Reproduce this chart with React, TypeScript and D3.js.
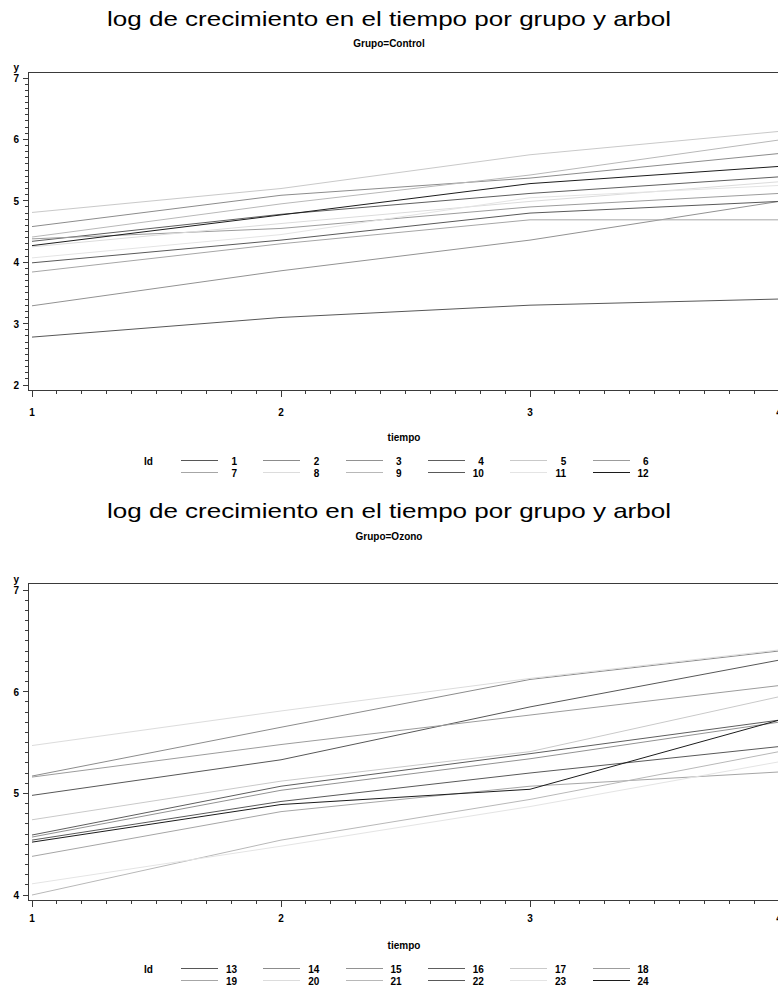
import React from "react";
import * as d3 from "d3";

// Time points and group data: log growth per tree (Id) over four measurements
const tiempo = [1, 2, 3, 4];

const controlIds = [1, 2, 3, 4, 5, 6, 7, 8, 9, 10, 11, 12];
const controlLogCrecimiento = [
  [2.78, 3.10, 3.30, 3.40],
  [4.58, 5.09, 5.37, 5.77],
  [3.29, 3.86, 4.36, 4.99],
  [4.34, 4.78, 5.12, 5.39],
  [4.81, 5.20, 5.75, 6.13],
  [4.38, 4.55, 4.90, 5.12],
  [3.84, 4.30, 4.69, 4.69],
  [4.25, 4.63, 4.99, 5.31],
  [4.41, 4.95, 5.42, 5.99],
  [3.99, 4.36, 4.80, 4.99],
  [4.07, 4.45, 5.05, 5.25],
  [4.27, 4.77, 5.28, 5.56],
];

const ozonoIds = [13, 14, 15, 16, 17, 18, 19, 20, 21, 22, 23, 24];
const ozonoLogCrecimiento = [
  [4.98, 5.33, 5.85, 6.31],
  [5.17, 5.65, 6.12, 6.40],
  [4.57, 5.03, 5.34, 5.70],
  [4.59, 5.07, 5.39, 5.72],
  [4.74, 5.12, 5.41, 5.95],
  [5.16, 5.48, 5.77, 6.06],
  [4.38, 4.82, 5.07, 5.21],
  [5.47, 5.81, 6.13, 6.41],
  [4.00, 4.54, 4.94, 5.41],
  [4.54, 4.92, 5.20, 5.46],
  [4.11, 4.48, 4.87, 5.31],
  [4.52, 4.89, 5.04, 5.72],
];

// Gray level for each Id position inside a group (same cycle for both groups)
const grises = [
  "#575757", "#8c8c8c", "#929292", "#5e5e5e", "#c9c9c9", "#9c9c9c",
  "#a6a6a6", "#dcdcdc", "#b8b8b8", "#595959", "#e4e4e4", "#1c1c1c",
];

const titulo = "log de crecimiento en el tiempo por grupo y arbol";
const ejeX = "tiempo";
const ejeY = "y";
const leyendaTitulo = "Id";

const W = 778;
const H = 991;
const FRAME_LEFT = 28;
const FRAME_RIGHT = 784;
const SMALL_FONT = "'Liberation Sans', Arial, sans-serif";

type PanelProps = {
  grupo: string;
  ids: number[];
  valores: number[][];
  yDomain: [number, number];
  yRange: [number, number];
  frameTop: number;
  frameBottom: number;
  titleY: number;
  subtitleY: number;
  tickLabelY: number;
  tiempoY: number;
  legendY: number;
};

function Panel(p: PanelProps) {
  const x = d3.scaleLinear().domain([1, 4]).range([32, 779]);
  const y = d3.scaleLinear().domain(p.yDomain).range(p.yRange);

  const line = d3
    .line<number>()
    .x((_, i) => x(tiempo[i]))
    .y((v) => y(v));

  const xMinor = d3.range(10, 41).map((v) => v / 10);
  const yMinor = d3
    .range(Math.round(p.yDomain[0] * 10), Math.round(p.yDomain[1] * 10) + 1)
    .map((v) => v / 10);
  const yMajor = d3.range(p.yDomain[0], p.yDomain[1] + 1);

  const axisColor = "#3a3a3a";

  return (
    <g>
      <text
        x={W / 2}
        y={p.titleY}
        textAnchor="middle"
        fontFamily="'Liberation Sans', Arial, sans-serif"
        fontSize={21}
        textLength={564}
        lengthAdjust="spacingAndGlyphs"
        fill="#000"
      >
        {titulo}
      </text>
      <text
        x={W / 2}
        y={p.subtitleY}
        textAnchor="middle"
        fontFamily={SMALL_FONT}
        fontSize={10}
        fontWeight="bold"
        fill="#000"
      >
        {`Grupo=${p.grupo}`}
      </text>

      {/* series */}
      <g fill="none" strokeWidth={1}>
        {p.valores.map((vals, i) => (
          <path key={p.ids[i]} d={line(vals) ?? ""} stroke={grises[i]} />
        ))}
      </g>

      {/* frame */}
      <g stroke={axisColor} strokeWidth={1} shapeRendering="crispEdges">
        <line x1={FRAME_LEFT} x2={FRAME_RIGHT} y1={p.frameTop} y2={p.frameTop} />
        <line x1={FRAME_LEFT} x2={FRAME_RIGHT} y1={p.frameBottom} y2={p.frameBottom} />
        <line x1={FRAME_LEFT} x2={FRAME_LEFT} y1={p.frameTop} y2={p.frameBottom} />
        {xMinor.map((v) => {
          const major = Math.abs(v - Math.round(v)) < 1e-9;
          return (
            <line
              key={`xt${v}`}
              x1={x(v)}
              x2={x(v)}
              y1={p.frameBottom}
              y2={p.frameBottom + (major ? 7 : 4)}
            />
          );
        })}
        {yMinor.map((v) => {
          const major = Math.abs(v - Math.round(v)) < 1e-9;
          return (
            <line
              key={`yt${v}`}
              x1={FRAME_LEFT - (major ? 5 : 3)}
              x2={FRAME_LEFT}
              y1={y(v)}
              y2={y(v)}
            />
          );
        })}
      </g>

      {/* tick labels */}
      <g fontFamily={SMALL_FONT} fontSize={10} fontWeight="bold" fill="#000">
        {yMajor.map((v) => (
          <text key={`yl${v}`} x={19} y={y(v) + 4} textAnchor="end">
            {v}
          </text>
        ))}
        <text x={19} y={y(p.yDomain[1]) - 7} textAnchor="end">
          {ejeY}
        </text>
        {tiempo.map((v) => (
          <text key={`xl${v}`} x={x(v)} y={p.tickLabelY} textAnchor="middle">
            {v}
          </text>
        ))}
        <text x={404} y={p.tiempoY} textAnchor="middle">
          {ejeX}
        </text>

        {/* legend */}
        <text x={144} y={p.legendY}>
          {leyendaTitulo}
        </text>
        {p.ids.map((id, i) => {
          const col = i % 6;
          const row = Math.floor(i / 6);
          const lx = 181 + col * 82.3;
          const ly = p.legendY + row * 12;
          return (
            <g key={`lg${id}`}>
              <line
                x1={lx}
                x2={lx + 37}
                y1={ly - 4.5}
                y2={ly - 4.5}
                stroke={grises[i]}
                strokeWidth={1}
                shapeRendering="crispEdges"
              />
              <text x={lx + 56} y={ly} textAnchor="end">
                {id}
              </text>
            </g>
          );
        })}
      </g>
    </g>
  );
}

export default function App() {
  return (
    <div style={{ position: "absolute", left: 0, top: 0 }}>
      <svg width={W} height={H} viewBox={`0 0 ${W} ${H}`} style={{ display: "block", background: "#fff" }}>
        <rect x={0} y={0} width={W} height={H} fill="#fff" />
        <Panel
          grupo="Control"
          ids={controlIds}
          valores={controlLogCrecimiento}
          yDomain={[2, 7]}
          yRange={[385, 78]}
          frameTop={72}
          frameBottom={390}
          titleY={26}
          subtitleY={47}
          tickLabelY={416}
          tiempoY={441}
          legendY={465}
        />
        <Panel
          grupo="Ozono"
          ids={ozonoIds}
          valores={ozonoLogCrecimiento}
          yDomain={[4, 7]}
          yRange={[895, 590]}
          frameTop={583}
          frameBottom={900}
          titleY={518}
          subtitleY={540}
          tickLabelY={922}
          tiempoY={949}
          legendY={973}
        />
      </svg>
    </div>
  );
}
